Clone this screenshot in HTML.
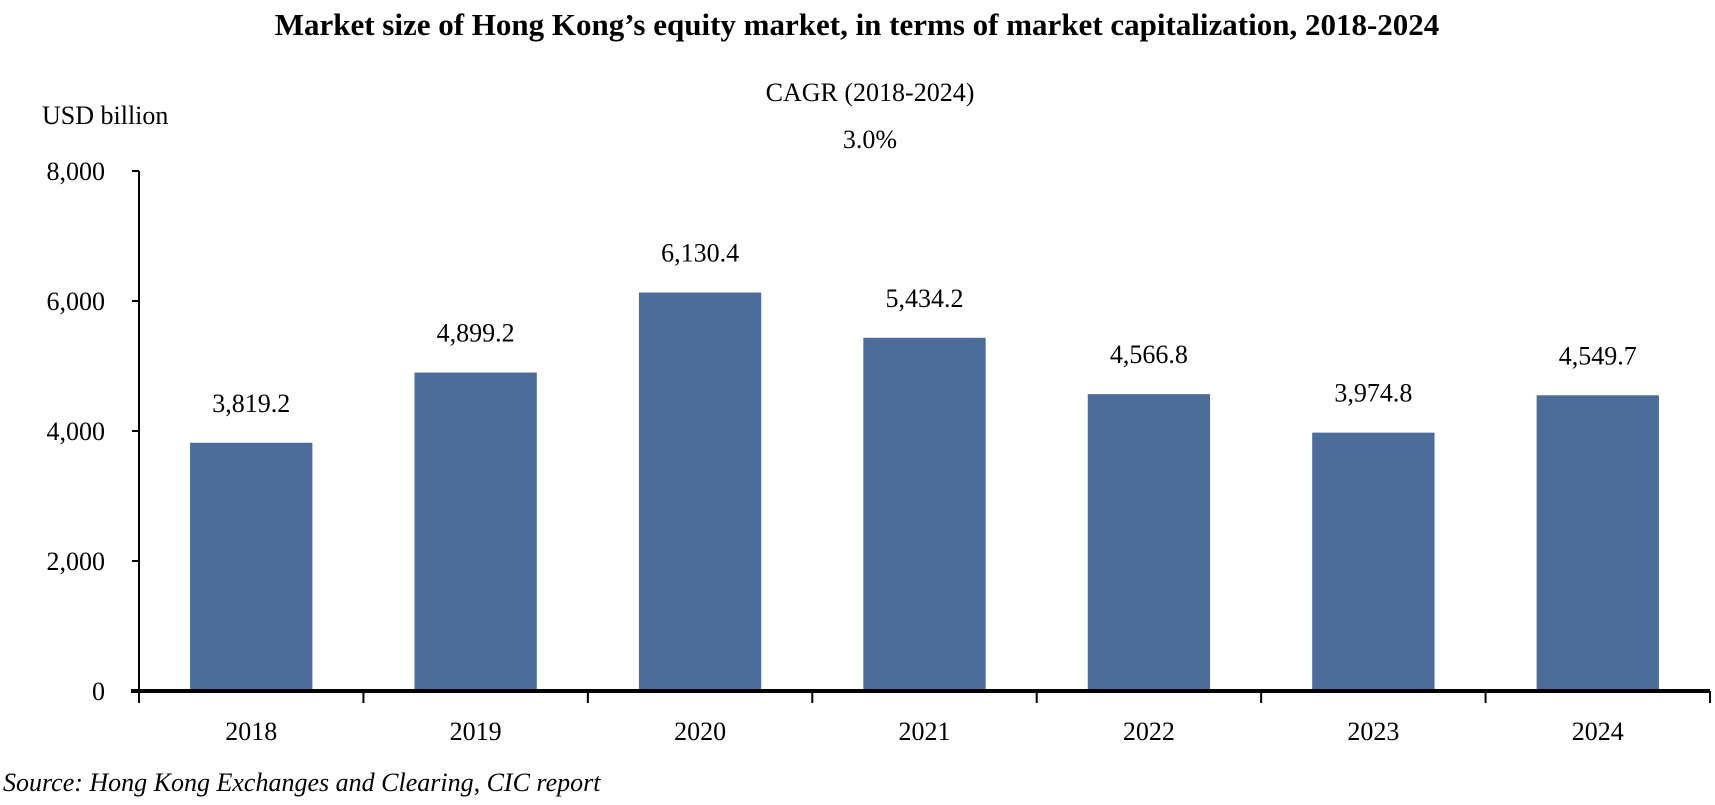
<!DOCTYPE html>
<html><head><meta charset="utf-8"><style>
body{margin:0;background:#fff;}
svg{display:block;font-family:"Liberation Serif",serif;}
</style></head><body>
<svg width="1715" height="805">
<text x="857" y="35" text-anchor="middle" font-size="31" font-weight="bold">Market size of Hong Kong’s equity market, in terms of market capitalization, 2018-2024</text>
<text x="42" y="124" font-size="26">USD billion</text>
<text x="870" y="101" text-anchor="middle" font-size="26">CAGR (2018-2024)</text>
<text x="870" y="148" text-anchor="middle" font-size="26">3.0%</text>
<g id="plot"></g>
<text x="3" y="791" font-size="26" font-style="italic">Source: Hong Kong Exchanges and Clearing, CIC report</text>
</svg>
<script>
const categories=["2018","2019","2020","2021","2022","2023","2024"];
const values=[3819.2,4899.2,6130.4,5434.2,4566.8,3974.8,4549.7];
const valueLabels=["3,819.2","4,899.2","6,130.4","5,434.2","4,566.8","3,974.8","4,549.7"];
const yTicks=[0,2000,4000,6000,8000];
const yTickLabels=["0","2,000","4,000","6,000","8,000"];
const NS="http://www.w3.org/2000/svg";
const g=document.getElementById('plot');
const x0=139,x1=1710,y0=691,y1=171,yMax=8000;
const band=(x1-x0)/categories.length;
const y=v=>y0-(v/yMax)*(y0-y1);
function mk(t,a){const e=document.createElementNS(NS,t);for(const k in a)e.setAttribute(k,a[k]);g.appendChild(e);return e;}
yTicks.forEach((t,i)=>{
 const l=mk('line',{x1:x0-7,x2:x0,y1:y(t),y2:y(t),stroke:'#000','stroke-width':2});
 
 
 const tx=mk('text',{x:105,y:y(t)+9,'text-anchor':'end','font-size':26});
 tx.textContent=yTickLabels[i];
 
 
});
categories.forEach((c,i)=>{
 const bw=band*0.545, bx=x0+band*i+(band-bw)/2;
 const r=mk('rect',{x:bx,y:y(values[i]),width:bw,height:y0-y(values[i]),fill:'#4D6C9A'});
 
 
 const vl=mk('text',{x:bx+bw/2,y:y(values[i])-31,'text-anchor':'middle','font-size':26});
 vl.textContent=valueLabels[i];
 
 
 const xl=mk('text',{x:x0+band*(i+0.5),y:740,'text-anchor':'middle','font-size':26});
 xl.textContent=c;
 
 
});
for(let i=0;i<=categories.length;i++){
 const t=mk('line',{x1:x0+band*i,x2:x0+band*i,y1:y0,y2:y0+12,stroke:'#000','stroke-width':2});
 
 
}
const ya=mk('line',{x1:x0,x2:x0,y1:y1,y2:y0,stroke:'#000','stroke-width':2});


const xa=mk('line',{x1:x0-8,x2:x1,y1:y0,y2:y0,stroke:'#000','stroke-width':4});


</script>
</body></html>
